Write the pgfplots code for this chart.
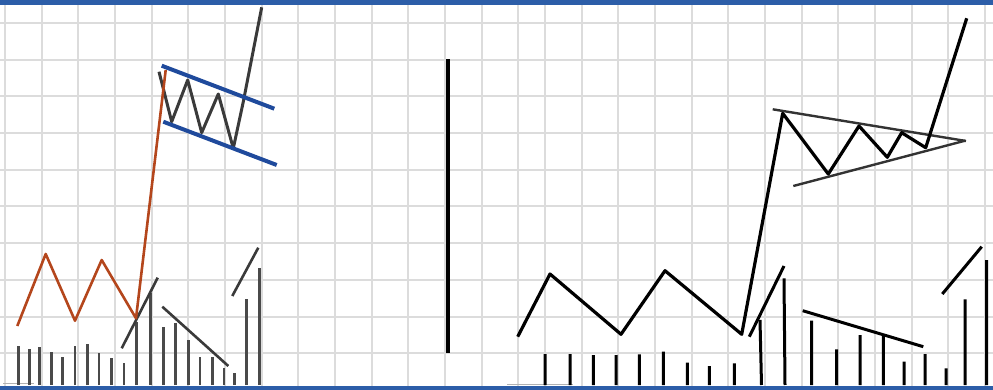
\documentclass[border=0pt]{standalone}
\usepackage{pgfplots}
\pgfplotsset{compat=1.18}
\definecolor{barblue}{HTML}{2C5DA8}
\definecolor{flagblue}{HTML}{1F4A9C}
\definecolor{rust}{HTML}{B4461C}
\definecolor{gridgray}{HTML}{DCDCDC}
\definecolor{pencil}{HTML}{3A3A3A}
\definecolor{volgray}{HTML}{4A4A4A}
\begin{document}
\begin{tikzpicture}
\begin{axis}[
  scale only axis, width=993pt, height=390pt,
  xmin=0, xmax=993, ymin=0, ymax=390, y dir=reverse,
  axis line style={draw=none}, major tick length=0pt,
  xticklabels={}, yticklabels={},
  xtick={5,41.7,78.3,115,151.7,188.3,225,261.7,298.3,335,371.7,408.3,445,481.7,518.3,545,581.7,618.3,655,691.7,728.3,765,801.7,838.3,875,911.7,948.3,985},
  ytick={23,59.7,96.4,133.1,169.8,206.5,243.2,279.9,316.6,353.3},
  xmajorgrids, ymajorgrids,
  major grid style={gridgray, line width=2pt},
  unbounded coords=jump, clip=false,
]
\coordinate (SW) at (axis cs:0,390);
\coordinate (NE) at (axis cs:993,0);
% blue frame bars
\addplot[fill=barblue, draw=none] coordinates {(0,0) (993,0) (993,5) (0,5)} -- cycle;
\addplot[fill=barblue, draw=none] coordinates {(0,385.5) (993,385.5) (993,390) (0,390)} -- cycle;
% small baselines
\addplot[gray!60, line width=1pt] coordinates {(3,383.5) (34,383.5)};
\addplot[gray!60, line width=1pt] coordinates {(507,384) (573,384)};

% ---------- LEFT: flag ----------
% volume bars
\addplot[volgray, line width=2.6pt] coordinates {
(18.3,385) (18.3,345.7) (0,nan)
(29.3,385) (29.3,349.3) (0,nan)
(39.3,385) (39.3,346.7) (0,nan)
(51.7,385) (51.7,351.7) (0,nan)
(62.7,385) (62.7,357.3) (0,nan)
(75,385) (75,345.7) (0,nan)
(87.3,385) (87.3,344.3) (0,nan)
(99,385) (99,353.3) (0,nan)
(111.7,385) (111.7,358.3) (0,nan)
(124,385) (124,362.7) (0,nan)
(136.7,385) (136.7,321.7) (0,nan)
(150.7,385) (150.7,293.3) (0,nan)
(163.3,385) (163.3,326.7) (0,nan)
(175.7,385) (175.7,323.3) (0,nan)
(188.3,385) (188.3,340) (0,nan)
(200,385) (200,357.3) (0,nan)
(212.3,385) (212.3,357.3) (0,nan)
(224,385) (224,368.3) (0,nan)
(234.3,385) (234.3,372.7) (0,nan)
(246.7,385) (246.7,299.3) (0,nan)
(259.3,385) (259.3,268.3)
};
% volume trend lines
\addplot[pencil, line width=2.6pt] coordinates {(121.7,348.3) (157.7,277.7) (0,nan) (162.3,306.7) (228.3,366) (0,nan) (232.3,296) (258.3,247.7)};
% price zigzag in flag
\addplot[pencil, line width=3pt, line join=round] coordinates {(159,71.7) (171.7,121.7) (187.7,80) (201.7,132.7) (218.3,94) (233.3,148.3) (243.3,101.7) (261.7,7.3)};
% flag channel
\addplot[flagblue, line width=4pt] coordinates {(161.7,65.7) (274.3,108.7)};
\addplot[flagblue, line width=4pt] coordinates {(163.3,121.7) (276.7,165)};
% orange price line
\addplot[rust, line width=2.6pt, line join=round] coordinates {(17.3,326) (45.7,254) (75,320.7) (101.7,260) (136,318.3) (165.7,70)};

% ---------- divider ----------
\addplot[black, line width=4pt] coordinates {(447.7,59.3) (447.7,353.3)};

% ---------- RIGHT: pennant ----------
\addplot[black, line width=3pt] coordinates {
(545,385) (545,354) (0,nan)
(570,385) (570,354) (0,nan)
(593.3,385) (593.3,355) (0,nan)
(616,385) (616,355) (0,nan)
(639.3,385) (639.3,354.3) (0,nan)
(663.3,385) (663.3,351.7) (0,nan)
(687.3,385) (687.3,362.7) (0,nan)
(709.3,385) (709.3,366) (0,nan)
(734.3,385) (734.3,363.3) (0,nan)
(761.5,385) (760,320) (0,nan)
(785,385) (784,278.3) (0,nan)
(811.7,385) (811.7,320.7) (0,nan)
(836.7,385) (836.7,349.3) (0,nan)
(860,385) (860,335) (0,nan)
(883.3,385) (883.3,335) (0,nan)
(904,385) (904,361.7) (0,nan)
(925,385) (925,354) (0,nan)
(946,385) (946,368.3) (0,nan)
(965,385) (965,299.3) (0,nan)
(986.7,385) (986.7,260)
};
\addplot[black, line width=3pt] coordinates {(749.3,336.7) (784,266) (0,nan) (802.7,310.7) (923.3,346.7) (0,nan) (942.3,294) (981.7,246.7)};
% pennant lines
\addplot[black!80, line width=2.4pt] coordinates {(772.7,109.3) (966,141)};
\addplot[black!80, line width=2.4pt] coordinates {(793.3,186) (965,140.7)};
% price line
\addplot[black, line width=3.2pt, line join=round] coordinates {(517.7,336.7) (550,274) (621,334.3) (665,270.7) (741.7,334.3) (782.7,113.3) (828.3,174) (859,126) (887.3,157.3) (901.7,132.7) (925.7,147.7) (966.7,18.3)};
\end{axis}
\pgfresetboundingbox
\path (SW) rectangle (NE);
\end{tikzpicture}
\end{document}
